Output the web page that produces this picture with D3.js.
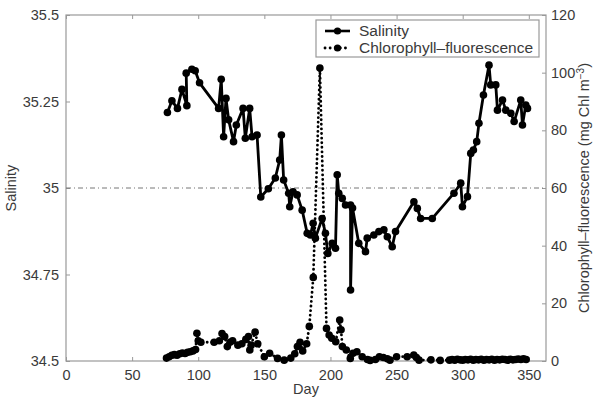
<!DOCTYPE html>
<html>
<head>
<meta charset="utf-8">
<script src="https://cdn.jsdelivr.net/npm/d3@7"></script>
<style>
  body { margin: 0; background: #fff; }
  text { font-family: "Liberation Sans", Arial, sans-serif; fill: #3a3a3a; }
</style>
</head>
<body>
<svg id="chart" width="594" height="401"></svg>
<script>
// salinity (left axis)
var salDays = [76.7, 80.1, 84.3, 87.7, 91.4, 90.9, 95.2, 97.7, 101, 115.4, 117.4, 119.2, 121, 123, 126.7, 128.8,
  133.9, 135.6, 138.9, 140.7, 144.5, 147.3, 153, 158.3, 161.6, 162.9, 164.6, 168.4, 169.2, 171.7, 174.8, 178.6,
  182.4, 184.8, 186.9, 188.6, 193.7, 196.2, 198, 201.3, 203.8, 205.1, 206.3, 208.9, 211.4, 215.2, 215.2, 216.7,
  221.4, 226.5, 227.8, 232.8, 236.6, 240.4, 243, 246.7, 249.2, 263.1, 265.7, 268.2, 277, 293.4, 298.5, 299.8,
  303.6, 306.1, 308.1, 310.6, 312.3, 315.7, 319.9, 321.2, 325, 326.3, 330.1, 332.6, 336.4, 338.9, 343.9, 345.2,
  347.7, 349];
var salValues = [35.218, 35.252, 35.230, 35.285, 35.238, 35.332, 35.343, 35.339, 35.304, 35.230, 35.314, 35.148,
  35.259, 35.197, 35.134, 35.182, 35.230, 35.144, 35.230, 35.148, 35.153, 34.974, 34.998, 35.029, 35.081, 35.153,
  35.023, 34.985, 34.946, 34.989, 34.980, 34.936, 34.869, 34.864, 34.898, 34.855, 34.912, 34.869, 34.811, 34.840,
  34.826, 35.038, 34.985, 34.970, 34.951, 34.951, 34.705, 34.942, 34.840, 34.816, 34.855, 34.864, 34.874, 34.879,
  34.859, 34.830, 34.874, 34.960, 34.941, 34.912, 34.912, 34.985, 35.014, 34.946, 34.975, 35.100, 35.110, 35.134,
  35.187, 35.269, 35.355, 35.298, 35.298, 35.225, 35.254, 35.225, 35.216, 35.192, 35.254, 35.182, 35.240, 35.230];

// chlorophyll fluorescence (right axis)
var chlDays = [76, 78, 80, 82, 84, 86, 88, 90, 92, 94, 96, 98, 99, 100, 102, 112, 116, 118, 120, 122, 124, 126,
  130, 133, 136, 138, 139, 140, 143, 145, 150, 154, 160, 165, 170, 173, 175, 177, 179, 182, 184, 187, 192, 197,
  199, 201, 204, 207, 208, 209, 212, 215, 217, 220, 224, 228, 230, 234, 237, 240, 243, 245, 250, 258, 263, 265,
  267, 276, 283, 290, 292, 294, 296, 298, 300, 302, 304, 306, 308, 310, 312, 314, 316, 318, 320, 322, 324, 326,
  328, 330, 332, 334, 336, 338, 340, 342, 344, 346, 348];
var chlValues = [1.0, 1.5, 2.0, 2.2, 2.0, 2.5, 2.8, 2.6, 3.0, 3.2, 3.5, 4.0, 9.6, 7.0, 6.5, 6.5, 7.0, 9.5, 8.5,
  5.0, 6.5, 7.0, 5.5, 6.0, 7.5, 8.5, 3.8, 5.5, 10.0, 6.0, 1.5, 2.7, 0.9, 0.3, 1.0, 2.5, 5.0, 6.5, 3.5, 6.0, 12,
  29, 101.6, 11.3, 9, 7.9, 6.7, 14.2, 10.8, 5, 3.8, 0.9, 2.7, 3.2, 1.5, 0.5, 0.2, 0.5, 1.5, 1.2, 0.8, 0.3, 1.5,
  1.5, 2.1, 1.2, 0.3, 0.4, 0.2, 0.3, 0.5, 0.3, 0.6, 0.4, 0.3, 0.5, 0.4, 0.6, 0.3, 0.5, 0.4, 0.6, 0.3, 0.5, 0.4,
  0.6, 0.3, 0.5, 0.4, 0.6, 0.5, 0.3, 0.6, 0.4, 0.5, 0.7, 0.5, 0.8, 0.5];

var dayTicks = [0, 50, 100, 150, 200, 250, 300, 350];
var salTicks = [34.5, 34.75, 35, 35.25, 35.5];
var chlTicks = [0, 20, 40, 60, 80, 100, 120];
var seriesNames = ["Salinity", "Chlorophyll\u2013fluorescence"];

var plotLeft = 66, plotRight = 546, plotTop = 15, plotBottom = 361;
var fontSize = 14.5;
var svg = d3.select("#chart");

var x = d3.scaleLinear().domain([0, 363]).range([plotLeft, plotRight]);
var ySal = d3.scaleLinear().domain([34.5, 35.5]).range([plotBottom, plotTop]);
var yChl = d3.scaleLinear().domain([0, 120]).range([plotBottom, plotTop]);

var axisColor = "#999";

// box
svg.append("rect")
  .attr("x", plotLeft).attr("y", plotTop)
  .attr("width", plotRight - plotLeft).attr("height", plotBottom - plotTop)
  .attr("fill", "none").attr("stroke", axisColor).attr("stroke-width", 1.2);

// axes with inward ticks
function styleAxis(g) {
  g.select(".domain").remove();
  g.selectAll(".tick line").attr("stroke", axisColor);
  g.selectAll(".tick text").attr("font-size", fontSize).attr("fill", "#3a3a3a")
    .attr("font-family", "'Liberation Sans', Arial, sans-serif");
}
svg.append("g").attr("transform", "translate(0," + plotBottom + ")")
  .call(d3.axisBottom(x).tickValues(dayTicks).tickSizeInner(-4).tickPadding(9))
  .call(styleAxis);
svg.append("g").attr("transform", "translate(0," + plotTop + ")")
  .call(d3.axisTop(x).tickValues(dayTicks).tickSizeInner(-4).tickFormat(""))
  .call(styleAxis);
svg.append("g").attr("transform", "translate(" + plotLeft + ",0)")
  .call(d3.axisLeft(ySal).tickValues(salTicks).tickSizeInner(-4).tickPadding(7).tickFormat(d3.format("")))
  .call(styleAxis);
svg.append("g").attr("transform", "translate(" + plotRight + ",0)")
  .call(d3.axisRight(yChl).tickValues(chlTicks).tickSizeInner(-4).tickPadding(5))
  .call(styleAxis);

// reference line at salinity 35
svg.append("line")
  .attr("x1", plotLeft).attr("x2", plotRight)
  .attr("y1", ySal(35)).attr("y2", ySal(35))
  .attr("stroke", "#777").attr("stroke-width", 1)
  .attr("stroke-dasharray", "5,3,1,3");

// chlorophyll series (dotted)
var chlPts = chlDays.map(function(d, i) { return [d, chlValues[i]]; });
svg.append("path")
  .datum(chlPts)
  .attr("fill", "none").attr("stroke", "#000").attr("stroke-width", 2.8)
  .attr("stroke-linecap", "round").attr("stroke-dasharray", "0.1,4.5")
  .attr("d", d3.line().x(function(d) { return x(d[0]); }).y(function(d) { return yChl(d[1]); }));
svg.append("g").selectAll("circle")
  .data(chlPts).enter().append("circle")
  .attr("cx", function(d) { return x(d[0]); })
  .attr("cy", function(d) { return yChl(d[1]); })
  .attr("r", 3.8).attr("fill", "#000");

// salinity series (solid)
var salPts = salDays.map(function(d, i) { return [d, salValues[i]]; });
svg.append("path")
  .datum(salPts)
  .attr("fill", "none").attr("stroke", "#000").attr("stroke-width", 2.8)
  .attr("stroke-linejoin", "round")
  .attr("d", d3.line().x(function(d) { return x(d[0]); }).y(function(d) { return ySal(d[1]); }));
svg.append("g").selectAll("circle")
  .data(salPts).enter().append("circle")
  .attr("cx", function(d) { return x(d[0]); })
  .attr("cy", function(d) { return ySal(d[1]); })
  .attr("r", 3.8).attr("fill", "#000");

// axis titles
svg.append("text")
  .attr("transform", "translate(16," + (plotTop + plotBottom) / 2 + ") rotate(-90)")
  .attr("text-anchor", "middle").attr("font-size", fontSize).text("Salinity");
svg.append("text")
  .attr("x", (plotLeft + plotRight) / 2).attr("y", 394)
  .attr("text-anchor", "middle").attr("font-size", fontSize).text("Day");
var rt = svg.append("text")
  .attr("transform", "translate(589," + (plotTop + plotBottom) / 2 + ") rotate(-90)")
  .attr("text-anchor", "middle").attr("font-size", fontSize);
rt.append("tspan").text("Chlorophyll\u2013fluorescence (mg Chl m");
rt.append("tspan").attr("dy", -5).attr("font-size", 10).text("\u22123");
rt.append("tspan").attr("dy", 5).text(")");

// legend
var legend = svg.append("g");
legend.append("rect")
  .attr("x", 316).attr("y", 20).attr("width", 223).attr("height", 37)
  .attr("fill", "#fff").attr("stroke", axisColor).attr("stroke-width", 1.2);
seriesNames.forEach(function(name, i) {
  var ly = 31 + i * 17;
  legend.append("line")
    .attr("x1", 325).attr("x2", 350).attr("y1", ly).attr("y2", ly)
    .attr("stroke", "#000").attr("stroke-width", i === 0 ? 2.6 : 2.8)
    .attr("stroke-linecap", i === 0 ? "butt" : "round")
    .attr("stroke-dasharray", i === 0 ? null : "0.1,5");
  legend.append("circle").attr("cx", 337.5).attr("cy", ly).attr("r", 3.6).attr("fill", "#000");
  legend.append("text").attr("x", 359).attr("y", ly + 5)
    .attr("font-size", 15.5).text(name);
});
</script>
</body>
</html>
